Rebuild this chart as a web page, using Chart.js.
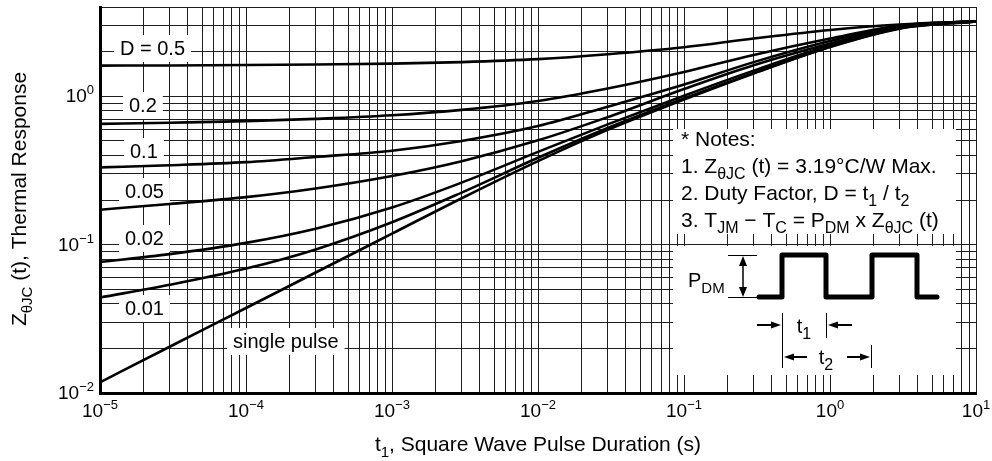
<!DOCTYPE html>
<html><head><meta charset="utf-8">
<script src="https://cdn.jsdelivr.net/npm/chart.js@4/dist/chart.umd.min.js"></script>
<style>html,body{margin:0;padding:0;background:#fff;}#wrap{width:992px;height:461px;}</style>
</head><body><div id="wrap"><canvas id="c" width="992" height="461"></canvas></div>
<script>
// ---- data ----
const pulseDurations = [1e-5, 3e-5, 1e-4, 3e-4, 1e-3, 3e-3, 1e-2, 3e-2, 1e-1, 3e-1, 1, 3, 10];
const zD050   = [1.61, 1.615, 1.625, 1.64, 1.66, 1.70, 1.78, 1.92, 2.14, 2.45, 2.8, 3.05, 3.2];
const zD020   = [0.652, 0.664, 0.68, 0.705, 0.745, 0.81, 0.93, 1.13, 1.46, 1.9, 2.45, 3.0, 3.2];
const zD010   = [0.332, 0.343, 0.36, 0.39, 0.43, 0.50, 0.63, 0.85, 1.2, 1.70, 2.36, 2.98, 3.2];
const zD005   = [0.172, 0.188, 0.209, 0.239, 0.29, 0.365, 0.505, 0.724, 1.12, 1.62, 2.27, 2.96, 3.2];
const zD002   = [0.0765, 0.0863, 0.1028, 0.128, 0.178, 0.262, 0.422, 0.647, 1.01, 1.49, 2.21, 2.91, 3.2];
const zD001   = [0.044, 0.0536, 0.069, 0.0929, 0.1416, 0.2244, 0.385, 0.611, 0.966, 1.435, 2.16, 2.88, 3.2];
const zSingle = [0.0118, 0.0205, 0.0374, 0.0649, 0.1186, 0.2056, 0.366, 0.594, 0.951, 1.426, 2.15, 2.86, 3.2];
const seriesNames = ['D = 0.5', '0.2', '0.1', '0.05', '0.02', '0.01', 'single pulse'];
const seriesValues = [zD050, zD020, zD010, zD005, zD002, zD001, zSingle];

const xTickExponents = [-5, -4, -3, -2, -1, 0, 1];
const yTickExponents = [-2, -1, 0];
const gridMultipliers = [1, 2, 3, 4, 5, 6, 7, 8, 9];
const xMin = 1e-5, xMax = 10, yMin = 0.01, yMax = 4;

// grid tick values (full log grid)
function logGrid(minExp, maxExp, maxVal) {
  const out = [];
  for (let e = minExp; e <= maxExp; e++) {
    for (const m of gridMultipliers) {
      const v = m * Math.pow(10, e);
      if (v <= maxVal * 1.0000001) out.push(v);
    }
  }
  return out;
}
const xGrid = logGrid(-5, 1, xMax);
const yGrid = logGrid(-2, 0, yMax);

const FONT = '"Liberation Sans", Arial, Helvetica, sans-serif';
const f = s => s + 'px ' + FONT;

// annotation labels on the curves
const curveLabels = [
  {text: 'D = 0.5', x: 120, base: 55},
  {text: '0.2', x: 129, base: 112},
  {text: '0.1', x: 130, base: 158},
  {text: '0.05', x: 125, base: 198},
  {text: '0.02', x: 125, base: 245},
  {text: '0.01', x: 125, base: 315},
  {text: 'single pulse', x: 233, base: 348}
];

function rich(ctx, segs, x, y, size, align, ratio) {
  const small = Math.round(size * (ratio || 0.72));
  let total = 0;
  const ws = segs.map(s => { ctx.font = f((s.sub || s.sup) ? small : size); const w = ctx.measureText(s.t).width; total += w; return w; });
  let cx = align === 'center' ? x - total / 2 : align === 'right' ? x - total : x;
  ctx.textAlign = 'left'; ctx.textBaseline = 'alphabetic';
  segs.forEach((s, i) => {
    ctx.font = f((s.sub || s.sup) ? small : size);
    const dy = s.sub ? size * 0.3 : s.sup ? -size * 0.42 : 0;
    ctx.fillText(s.t, cx, y + dy);
    cx += ws[i];
  });
  return total;
}
function arrow(ctx, x1, y1, x2, y2, len, hw) {
  const a = Math.atan2(y2 - y1, x2 - x1);
  ctx.beginPath(); ctx.moveTo(x1, y1); ctx.lineTo(x2 - Math.cos(a) * len * 0.6, y2 - Math.sin(a) * len * 0.6); ctx.stroke();
  ctx.beginPath();
  ctx.moveTo(x2, y2);
  ctx.lineTo(x2 - Math.cos(a) * len - Math.sin(a) * hw, y2 - Math.sin(a) * len + Math.cos(a) * hw);
  ctx.lineTo(x2 - Math.cos(a) * len + Math.sin(a) * hw, y2 - Math.sin(a) * len - Math.cos(a) * hw);
  ctx.closePath(); ctx.fill();
}

const overlay = {
  id: 'overlay',
  beforeDatasetsDraw(chart) {
    const ctx = chart.ctx;
    ctx.save();
    ctx.fillStyle = '#fff';
    ctx.font = f(20);
    curveLabels.forEach(l => {
      const w = ctx.measureText(l.text).width;
      ctx.fillRect(l.x - 6, l.base - 20, w + 12, 27);
    });
    ctx.fillRect(673, 129, 283, 105);
    ctx.fillRect(673, 246, 283, 129);
    ctx.restore();
  },
  afterDraw(chart) {
    const ctx = chart.ctx;
    const xs = chart.scales.x, ys = chart.scales.y;
    ctx.save();
    ctx.fillStyle = '#000'; ctx.strokeStyle = '#000';
    // curve labels
    ctx.font = f(20); ctx.textAlign = 'left'; ctx.textBaseline = 'alphabetic';
    curveLabels.forEach(l => ctx.fillText(l.text, l.x, l.base));
    // x tick labels
    xTickExponents.forEach(e => {
      const px = xs.getPixelForValue(Math.pow(10, e));
      const sup = e < 0 ? '\u2212' + Math.abs(e) : String(e);
      ctx.font = f(19); const w1 = ctx.measureText('10').width;
      ctx.font = f(13); const w2 = ctx.measureText(sup).width;
      const x0 = px - (w1 + w2) / 2;
      ctx.font = f(19); ctx.fillText('10', x0, 417);
      ctx.font = f(13); ctx.fillText(sup, x0 + w1, 409);
    });
    // y tick labels
    yTickExponents.forEach(e => {
      const py = ys.getPixelForValue(Math.pow(10, e));
      const sup = e < 0 ? '\u2212' + Math.abs(e) : String(e);
      ctx.font = f(13); const w2 = ctx.measureText(sup).width;
      ctx.font = f(19); const w1 = ctx.measureText('10').width;
      const x0 = 94 - w1 - w2;
      ctx.fillText('10', x0, py + 6);
      ctx.font = f(13); ctx.fillText(sup, x0 + w1, py - 2);
    });
    // axis titles
    rich(ctx, [{t: 't'}, {t: '1', sub: true}, {t: ', Square Wave Pulse Duration (s)'}], 538, 451, 21, 'center');
    ctx.save();
    ctx.translate(26, 199); ctx.rotate(-Math.PI / 2);
    rich(ctx, [{t: 'Z'}, {t: '\u03B8JC', sub: true}, {t: ' (t), Thermal Response'}], 0, 0, 21, 'center');
    ctx.restore();
    // notes
    const nx = 681, ns = 21;
    rich(ctx, [{t: '* Notes:'}], nx, 146, ns, 'left');
    rich(ctx, [{t: '1. Z'}, {t: '\u03B8JC', sub: true}, {t: ' (t) = 3.19\u00B0C/W Max.'}], nx, 173, ns, 'left', 0.78);
    rich(ctx, [{t: '2. Duty Factor, D = t'}, {t: '1', sub: true}, {t: ' / t'}, {t: '2', sub: true}], nx, 200, ns, 'left', 0.78);
    rich(ctx, [{t: '3. T'}, {t: 'JM', sub: true}, {t: ' \u2212 T'}, {t: 'C', sub: true}, {t: ' = P'}, {t: 'DM', sub: true}, {t: ' x Z'}, {t: '\u03B8JC', sub: true}, {t: ' (t)'}], nx, 227, ns, 'left', 0.78);
    // waveform
    ctx.lineWidth = 5; ctx.lineJoin = 'round'; ctx.lineCap = 'round';
    ctx.beginPath();
    ctx.moveTo(759, 297); ctx.lineTo(782, 297); ctx.lineTo(782, 255); ctx.lineTo(826, 255); ctx.lineTo(826, 297);
    ctx.lineTo(872, 297); ctx.lineTo(872, 255); ctx.lineTo(917, 255); ctx.lineTo(917, 297); ctx.lineTo(937, 297);
    ctx.stroke();
    ctx.lineCap = 'butt'; ctx.lineWidth = 1;
    ctx.beginPath(); ctx.moveTo(728, 255.5); ctx.lineTo(757, 255.5); ctx.moveTo(728, 297.5); ctx.lineTo(757, 297.5); ctx.stroke();
    ctx.lineWidth = 1.5;
    arrow(ctx, 743, 276, 743, 256, 10, 4);
    arrow(ctx, 743, 276, 743, 297, 10, 4);
    rich(ctx, [{t: 'P'}, {t: 'DM', sub: true}], 688, 287, 20, 'left', 0.75);
    ctx.lineWidth = 1;
    ctx.beginPath();
    ctx.moveTo(782.5, 313); ctx.lineTo(782.5, 368);
    ctx.moveTo(826.5, 313); ctx.lineTo(826.5, 338);
    ctx.moveTo(871.5, 345); ctx.lineTo(871.5, 368);
    ctx.stroke();
    ctx.lineWidth = 2;
    arrow(ctx, 757, 325, 781, 325, 10, 3.5);
    arrow(ctx, 852, 325, 828, 325, 10, 3.5);
    arrow(ctx, 807, 357, 784, 357, 10, 3.5);
    arrow(ctx, 847, 357, 870, 357, 10, 3.5);
    rich(ctx, [{t: 't'}, {t: '1', sub: true}], 804, 333, 20, 'center', 0.78);
    rich(ctx, [{t: 't'}, {t: '2', sub: true}], 826, 364, 20, 'center', 0.78);
    ctx.restore();
  }
};

const datasets = seriesValues.map((vals, i) => ({
  label: seriesNames[i],
  data: pulseDurations.map((t, j) => ({x: t, y: vals[j]})),
  borderColor: '#000',
  borderWidth: 2.6,
  pointRadius: 0,
  fill: false,
  cubicInterpolationMode: 'monotone'
}));

new Chart(document.getElementById('c'), {
  type: 'line',
  data: {datasets},
  options: {
    responsive: false,
    animation: false,
    devicePixelRatio: 1,
    layout: {padding: {left: 100, right: 16, top: 7, bottom: 68}},
    plugins: {legend: {display: false}, tooltip: {enabled: false}},
    scales: {
      x: {
        type: 'logarithmic', min: xMin, max: xMax, position: 'bottom',
        afterBuildTicks: s => { s.ticks = xGrid.map(v => ({value: v})); },
        ticks: {display: false, autoSkip: false},
        grid: {color: '#1e1e1e', lineWidth: 1, drawTicks: false},
        border: {color: '#000', width: 3}
      },
      y: {
        type: 'logarithmic', min: yMin, max: yMax, position: 'left',
        afterBuildTicks: s => { s.ticks = yGrid.map(v => ({value: v})); },
        ticks: {display: false, autoSkip: false},
        grid: {color: '#1e1e1e', lineWidth: 1, drawTicks: false},
        border: {color: '#000', width: 3}
      }
    }
  },
  plugins: [overlay]
});
</script></body></html>
